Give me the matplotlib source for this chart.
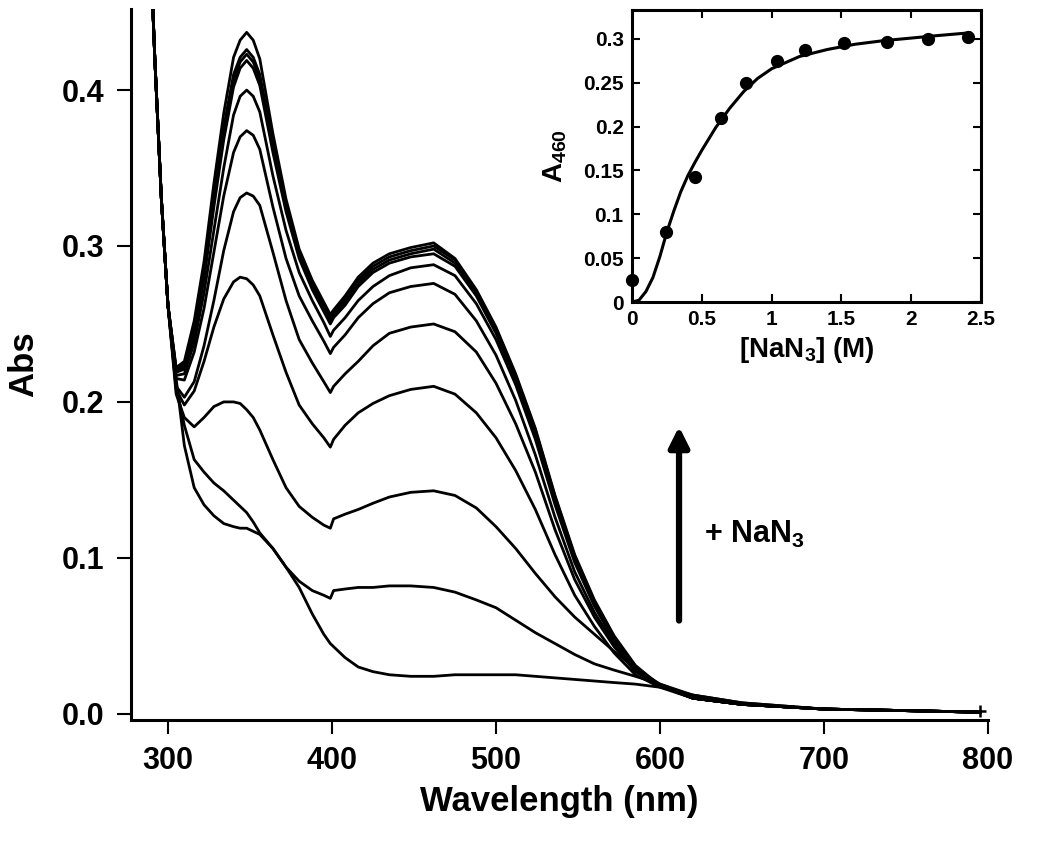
import numpy as np
from matplotlib import pyplot as plt

plt.rcParams['font.family'] = ['Liberation Sans', 'DejaVu Sans']
plt.rcParams['font.weight'] = 'bold'
plt.rcParams['mathtext.fontset'] = 'custom'
plt.rcParams['mathtext.rm'] = 'Liberation Sans:bold'
plt.rcParams['mathtext.bf'] = 'Liberation Sans:bold'

### spectra, wavelength in nm
wl = [289, 292, 296, 300, 305, 310, 316, 322, 328, 334,
      340, 344, 348, 352, 356, 364, 372, 380, 388, 395,
      399, 401, 408, 416, 425, 435, 448, 462, 475, 488,
      500, 512, 524, 536, 548, 560, 572, 585, 600, 620,
      650, 700, 750, 795]

s0 = [0.50, 0.42, 0.33, 0.262, 0.215, 0.172, 0.145, 0.134, 0.127, 0.122,
      0.120, 0.119, 0.119, 0.117, 0.115, 0.106, 0.094, 0.081, 0.064, 0.051,
      0.045, 0.043, 0.036, 0.030, 0.027, 0.025, 0.024, 0.024, 0.025, 0.025,
      0.025, 0.025, 0.024, 0.023, 0.022, 0.021, 0.020, 0.019, 0.017, 0.012,
      0.007, 0.003, 0.002, 0.001]
s1 = [0.50, 0.42, 0.33, 0.262, 0.210, 0.185, 0.163, 0.155, 0.148, 0.143,
      0.137, 0.133, 0.129, 0.123, 0.116, 0.106, 0.094, 0.085, 0.079, 0.076,
      0.074, 0.079, 0.080, 0.081, 0.081, 0.082, 0.082, 0.081, 0.078, 0.073,
      0.068, 0.060, 0.052, 0.045, 0.038, 0.032, 0.028, 0.024, 0.019, 0.012,
      0.007, 0.003, 0.002, 0.001]
s2 = [0.50, 0.42, 0.33, 0.262, 0.205, 0.190, 0.184, 0.190, 0.197, 0.200,
      0.200, 0.199, 0.195, 0.190, 0.182, 0.163, 0.145, 0.133, 0.126, 0.121,
      0.119, 0.125, 0.128, 0.131, 0.135, 0.139, 0.142, 0.143, 0.140, 0.132,
      0.120, 0.106, 0.090, 0.075, 0.062, 0.051, 0.040, 0.029, 0.019, 0.011,
      0.006, 0.003, 0.002, 0.001]
s3 = [0.50, 0.42, 0.33, 0.262, 0.208, 0.198, 0.207, 0.226, 0.248, 0.266,
      0.277, 0.280, 0.279, 0.275, 0.268, 0.243, 0.219, 0.198, 0.186, 0.177,
      0.171, 0.176, 0.185, 0.193, 0.199, 0.204, 0.208, 0.210, 0.205, 0.193,
      0.177, 0.156, 0.131, 0.102, 0.076, 0.056, 0.039, 0.025, 0.017, 0.010,
      0.006, 0.003, 0.002, 0.001]
s4 = [0.50, 0.42, 0.33, 0.262, 0.210, 0.203, 0.213, 0.236, 0.265, 0.297,
      0.322, 0.331, 0.334, 0.332, 0.326, 0.296, 0.265, 0.240, 0.225, 0.213,
      0.206, 0.210, 0.218, 0.226, 0.236, 0.244, 0.248, 0.250, 0.245, 0.232,
      0.212, 0.186, 0.155, 0.118, 0.086, 0.062, 0.043, 0.027, 0.018, 0.010,
      0.006, 0.003, 0.002, 0.001]
s5 = [0.50, 0.42, 0.33, 0.262, 0.215, 0.214, 0.232, 0.260, 0.296, 0.332,
      0.360, 0.370, 0.374, 0.371, 0.362, 0.325, 0.292, 0.268, 0.252, 0.239,
      0.231, 0.235, 0.243, 0.254, 0.263, 0.270, 0.274, 0.276, 0.269, 0.252,
      0.230, 0.201, 0.166, 0.126, 0.091, 0.065, 0.045, 0.028, 0.018, 0.010,
      0.006, 0.003, 0.002, 0.001]
s6 = [0.50, 0.42, 0.33, 0.262, 0.217, 0.218, 0.238, 0.270, 0.310, 0.350,
      0.384, 0.396, 0.400, 0.396, 0.386, 0.345, 0.310, 0.283, 0.265, 0.251,
      0.242, 0.246, 0.254, 0.265, 0.274, 0.281, 0.286, 0.288, 0.281, 0.263,
      0.240, 0.211, 0.176, 0.134, 0.097, 0.069, 0.047, 0.029, 0.018, 0.010,
      0.006, 0.003, 0.002, 0.001]
s7 = [0.50, 0.42, 0.33, 0.262, 0.219, 0.221, 0.243, 0.279, 0.325, 0.368,
      0.402, 0.414, 0.419, 0.414, 0.403, 0.360, 0.322, 0.292, 0.272, 0.258,
      0.250, 0.254, 0.262, 0.274, 0.283, 0.289, 0.293, 0.295, 0.287, 0.268,
      0.244, 0.214, 0.179, 0.137, 0.099, 0.070, 0.048, 0.030, 0.018, 0.010,
      0.006, 0.003, 0.002, 0.001]
s8 = [0.50, 0.42, 0.33, 0.262, 0.220, 0.222, 0.245, 0.282, 0.329, 0.372,
      0.406, 0.418, 0.423, 0.418, 0.407, 0.363, 0.325, 0.294, 0.274, 0.260,
      0.252, 0.256, 0.264, 0.276, 0.285, 0.291, 0.295, 0.298, 0.289, 0.270,
      0.246, 0.216, 0.181, 0.138, 0.100, 0.071, 0.049, 0.030, 0.018, 0.010,
      0.006, 0.003, 0.002, 0.001]
s9 = [0.50, 0.42, 0.33, 0.262, 0.221, 0.224, 0.248, 0.285, 0.333, 0.376,
      0.410, 0.421, 0.426, 0.421, 0.410, 0.366, 0.327, 0.296, 0.276, 0.262,
      0.254, 0.258, 0.266, 0.278, 0.287, 0.293, 0.297, 0.300, 0.291, 0.271,
      0.247, 0.217, 0.182, 0.139, 0.101, 0.072, 0.049, 0.030, 0.018, 0.010,
      0.006, 0.003, 0.002, 0.001]
s10 = [0.50, 0.42, 0.33, 0.262, 0.222, 0.226, 0.252, 0.290, 0.340, 0.385,
       0.421, 0.432, 0.437, 0.432, 0.420, 0.372, 0.330, 0.298, 0.278, 0.264,
       0.256, 0.259, 0.268, 0.280, 0.289, 0.295, 0.299, 0.302, 0.292, 0.272,
       0.248, 0.218, 0.183, 0.140, 0.102, 0.073, 0.050, 0.031, 0.018, 0.010,
       0.006, 0.003, 0.002, 0.001]

spectra = [s0, s1, s2, s3, s4, s5, s6, s7, s8, s9, s10]

### inset: A460 vs [NaN3]
conc = [0.0, 0.24, 0.45, 0.64, 0.82, 1.04, 1.24, 1.52, 1.83, 2.12, 2.41]
a460 = [0.025, 0.080, 0.143, 0.210, 0.250, 0.275, 0.287, 0.295, 0.297, 0.300, 0.302]

fit_x = [0.0, 0.05, 0.1, 0.15, 0.2, 0.25, 0.3, 0.35, 0.4, 0.45, 0.5, 0.6,
         0.7, 0.8, 0.9, 1.0, 1.2, 1.4, 1.6, 1.8, 2.0, 2.2, 2.42]
fit_y = [0.0, 0.002, 0.012, 0.028, 0.052, 0.080, 0.104, 0.126, 0.144, 0.159,
         0.173, 0.199, 0.221, 0.240, 0.255, 0.266, 0.280, 0.288, 0.294, 0.298,
         0.301, 0.304, 0.307]

main_xticks = [300, 400, 500, 600, 700, 800]
main_yticks = [0.0, 0.1, 0.2, 0.3, 0.4]
ins_xticks = [0, 0.5, 1, 1.5, 2, 2.5]
ins_yticks = [0, 0.05, 0.1, 0.15, 0.2, 0.25, 0.3]

fig = plt.figure(figsize=(10.5, 8.41), dpi=100)

### main panel
ax = fig.add_axes([0.1248, 0.1439, 0.8162, 0.8454])
for s in spectra:
	ax.plot(wl, s, color='black', lw=2.0)
ax.plot([795], [0.002], marker='+', color='black', ms=9, mew=1.8)

ax.set_xlim(277.5, 800)
ax.set_ylim(-0.004, 0.452)
ax.set_xticks(main_xticks)
ax.set_yticks(main_yticks)
ax.set_yticklabels(['%.1f' % v for v in main_yticks])
for side in ['top', 'right']:
	ax.spines[side].set_visible(False)
for side in ['left', 'bottom']:
	ax.spines[side].set_linewidth(2.2)
ax.tick_params(direction='out', length=10, width=1.5, labelsize=22, pad=9)
ax.set_xlabel('Wavelength (nm)', fontsize=25, fontweight='bold', labelpad=6)
ax.set_ylabel('Abs', fontsize=25, fontweight='bold', labelpad=16)

# arrow and label
ax.annotate('', xy=(611.6, 0.186), xytext=(611.6, 0.058),
            arrowprops=dict(arrowstyle='-|>', color='black', lw=4.5, mutation_scale=30))
ax.text(627, 0.1147, '+ NaN$_{\\mathbf{3}}$', fontsize=22, fontweight='bold',
        va='center', ha='left')

### inset
axi = fig.add_axes([0.6019, 0.6409, 0.3324, 0.3472])
axi.plot(fit_x, fit_y, color='black', lw=2.2)
axi.plot(conc, a460, 'o', color='black', ms=8.5, clip_on=False, zorder=3)
axi.set_xlim(0, 2.5)
axi.set_ylim(0, 0.333)
axi.set_xticks(ins_xticks)
axi.set_xticklabels(['%g' % v for v in ins_xticks])
axi.set_yticks(ins_yticks)
axi.set_yticklabels(['%g' % v for v in ins_yticks])
for side in axi.spines:
	axi.spines[side].set_linewidth(2.2)
axi.tick_params(direction='in', top=True, right=True, length=6, width=1.5,
                labelsize=15, pad=6)
axi.set_xlabel('[NaN$_{\\mathbf{3}}$] (M)', fontsize=20, fontweight='bold', labelpad=4)
axi.set_ylabel('A$_{\\mathbf{460}}$', fontsize=20, fontweight='bold', labelpad=10)

fig.savefig('out.png', dpi=100)
